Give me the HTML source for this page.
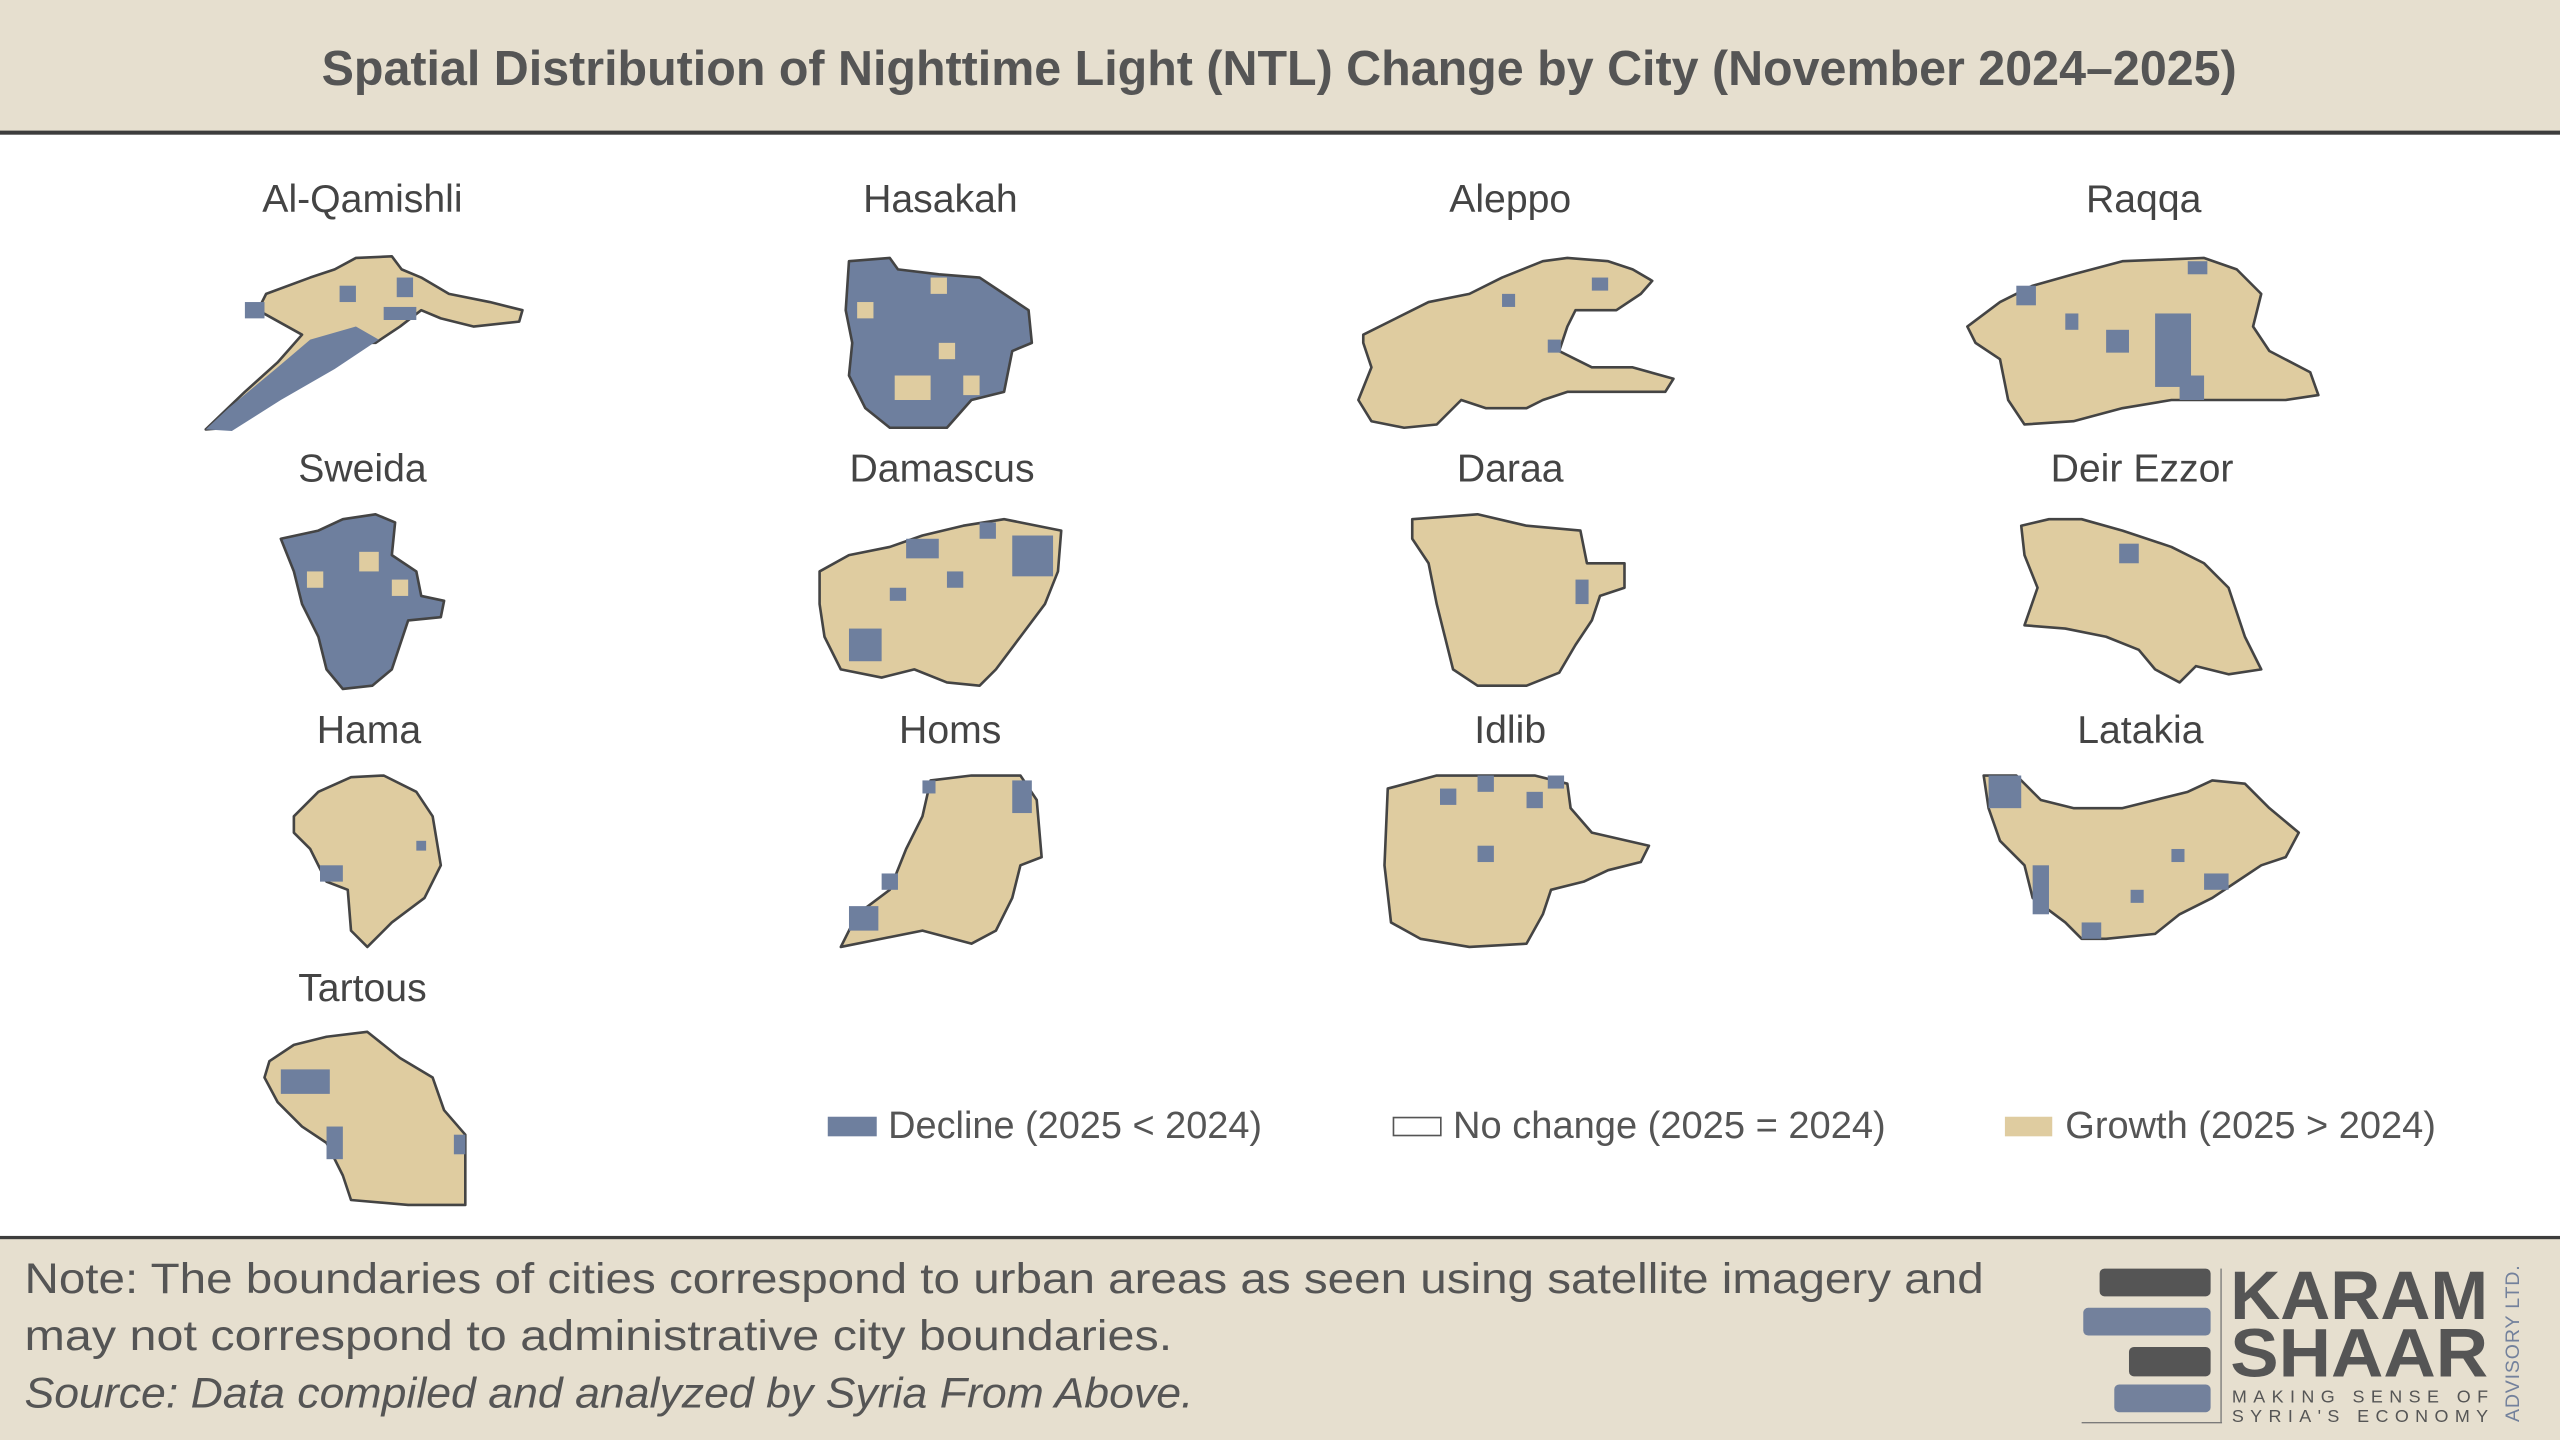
<!DOCTYPE html>
<html><head><meta charset="utf-8"><style>
html,body{margin:0;padding:0;background:#fff;}
svg{display:block;}
text{font-family:"Liberation Sans",sans-serif;}
</style></head><body>
<svg width="2560" height="1440" viewBox="0 0 1568 882" xmlns="http://www.w3.org/2000/svg">
<rect x="0" y="0" width="1568" height="882" fill="#ffffff"/>
<rect x="0" y="0" width="1568" height="81" fill="#e6dfcf"/>
<rect x="0" y="80" width="1568" height="2.5" fill="#3d3d3d"/>
<text x="197" y="52" font-size="30" font-weight="bold" fill="#555" textLength="1173" lengthAdjust="spacingAndGlyphs">Spatial Distribution of Nighttime Light (NTL) Change by City (November 2024–2025)</text>

<rect x="0" y="758" width="1568" height="124" fill="#e6dfcf"/>
<rect x="0" y="757" width="1568" height="2" fill="#3d3d3d"/>
<text x="15" y="792" font-size="26" fill="#555" textLength="1200" lengthAdjust="spacingAndGlyphs">Note: The boundaries of cities correspond to urban areas as seen using satellite imagery and</text>
<text x="15" y="827" font-size="26" fill="#555" textLength="703" lengthAdjust="spacingAndGlyphs">may not correspond to administrative city boundaries.</text>
<text x="15" y="862" font-size="26" font-style="italic" fill="#555" textLength="716" lengthAdjust="spacingAndGlyphs">Source: Data compiled and analyzed by Syria From Above.</text>

<!-- logo -->
<rect x="1286" y="777" width="68" height="17" rx="3" fill="#555"/>
<rect x="1276" y="801" width="78" height="17" rx="3" fill="#73819c"/>
<rect x="1304" y="825" width="50" height="18" rx="3" fill="#555"/>
<rect x="1295" y="848" width="59" height="17" rx="3" fill="#73819c"/>
<rect x="1360" y="777" width="0.8" height="94" fill="#777"/>
<rect x="1275" y="871" width="86" height="0.8" fill="#777"/>
<text x="1366" y="808" font-size="42" font-weight="bold" fill="#555" textLength="158" lengthAdjust="spacingAndGlyphs">KARAM</text>
<text x="1366" y="843" font-size="42" font-weight="bold" fill="#555" textLength="158" lengthAdjust="spacingAndGlyphs">SHAAR</text>
<text x="1367" y="859" font-size="11" fill="#555" textLength="157" lengthAdjust="spacing">MAKING SENSE OF</text>
<text x="1367" y="871" font-size="11" fill="#555" textLength="157" lengthAdjust="spacing">SYRIA'S ECONOMY</text>
<text transform="translate(1543,871) rotate(-90)" font-size="12" fill="#73819c" textLength="96" lengthAdjust="spacing">ADVISORY LTD.</text>

<!-- labels -->
<g font-size="24" fill="#444" text-anchor="middle">
<text x="222" y="130">Al-Qamishli</text>
<text x="576" y="130">Hasakah</text>
<text x="925" y="130">Aleppo</text>
<text x="1313" y="130">Raqqa</text>
<text x="222" y="295">Sweida</text>
<text x="577" y="295">Damascus</text>
<text x="925" y="295">Daraa</text>
<text x="1312" y="295">Deir Ezzor</text>
<text x="226" y="455">Hama</text>
<text x="582" y="455">Homs</text>
<text x="925" y="455">Idlib</text>
<text x="1311" y="455">Latakia</text>
<text x="222" y="613">Tartous</text>
</g>

<g stroke="#444" stroke-width="1.6" stroke-linejoin="round">
<!-- Al-Qamishli -->
<polygon fill="#dfcca0" points="126,263 150,240 170,222 185,205 158,190 163,180 190,170 205,165 218,158 240,157 246,165 258,170 275,180 300,185 320,190 318,197 290,200 270,195 258,190 245,200 230,210 220,210 200,225 175,240 140,262"/>
<polygon fill="#6e7f9e" stroke="none" points="126,263 140,250 170,225 190,208 218,200 232,208 205,226 172,245 142,264"/>
<!-- Hasakah -->
<polygon fill="#6e7f9e" points="520,160 545,158 550,165 575,168 600,170 615,180 630,190 632,210 620,215 615,240 595,245 580,262 545,262 530,250 520,230 522,210 518,190"/>
<!-- Aleppo -->
<polygon fill="#dfcca0" points="835,205 855,195 875,185 900,180 920,170 945,160 960,158 985,160 1000,165 1012,172 1005,180 990,190 965,190 960,200 955,215 975,225 1000,225 1025,232 1020,240 990,240 960,240 945,245 935,250 910,250 895,245 880,260 860,262 840,258 832,245 840,225 835,210"/>
<!-- Raqqa -->
<polygon fill="#dfcca0" points="1205,200 1225,185 1245,175 1270,168 1300,160 1350,158 1370,165 1385,180 1380,200 1390,215 1415,228 1420,242 1400,245 1360,245 1330,245 1300,250 1270,258 1240,260 1230,245 1225,220 1210,210"/>
<!-- Sweida -->
<polygon fill="#6e7f9e" points="172,330 195,325 210,318 230,315 242,320 240,340 255,350 258,365 272,368 270,378 250,380 245,395 240,410 228,420 210,422 200,410 195,390 185,370 180,350"/>
<!-- Damascus -->
<polygon fill="#dfcca0" points="502,350 520,340 545,335 565,328 590,322 615,318 650,325 648,350 640,370 625,390 610,410 600,420 580,418 560,410 540,415 515,410 505,390 502,370"/>
<!-- Daraa -->
<polygon fill="#dfcca0" points="865,318 905,315 935,322 968,325 972,345 995,345 995,360 980,365 975,380 965,395 955,412 935,420 905,420 890,410 885,390 880,370 875,345 865,330"/>
<!-- Deir Ezzor -->
<polygon fill="#dfcca0" points="1238,322 1255,318 1275,318 1300,325 1330,335 1350,345 1365,360 1375,390 1385,410 1365,413 1345,408 1335,418 1320,410 1310,398 1290,390 1265,385 1240,383 1248,360 1240,340"/>
<!-- Hama -->
<polygon fill="#dfcca0" points="180,500 195,485 215,476 235,475 255,485 265,500 270,530 260,550 240,565 225,580 215,570 213,545 200,540 190,520 180,510"/>
<!-- Homs -->
<polygon fill="#dfcca0" points="515,580 525,560 545,545 555,520 565,500 570,478 595,475 625,475 635,490 638,525 625,530 620,550 610,570 595,578 565,570 540,575"/>
<!-- Idlib -->
<polygon fill="#dfcca0" points="850,483 880,475 940,475 960,480 962,495 975,510 1010,518 1005,528 985,533 970,540 950,545 945,560 935,578 900,580 870,575 852,565 848,530"/>
<!-- Latakia -->
<polygon fill="#dfcca0" points="1215,475 1235,475 1250,490 1270,495 1300,495 1320,490 1340,485 1355,478 1375,480 1390,495 1408,510 1400,525 1385,530 1370,540 1355,550 1335,560 1320,572 1290,575 1275,575 1265,565 1245,550 1240,530 1225,515 1218,495"/>
<!-- Tartous -->
<polygon fill="#dfcca0" points="165,650 180,640 200,635 225,632 245,648 265,660 272,680 285,695 285,738 250,738 215,735 210,720 200,700 185,690 170,675 162,660"/>
</g>

<!-- pixel patches -->
<g fill="#6e7f9e">
<rect x="150" y="185" width="12" height="10"/><rect x="243" y="170" width="10" height="12"/><rect x="208" y="175" width="10" height="10"/><rect x="235" y="188" width="20" height="8"/>
<rect x="920" y="180" width="8" height="8"/><rect x="975" y="170" width="10" height="8"/><rect x="948" y="208" width="8" height="8"/>
<rect x="1320" y="192" width="22" height="45"/><rect x="1290" y="202" width="14" height="14"/><rect x="1235" y="175" width="12" height="12"/><rect x="1265" y="192" width="8" height="10"/><rect x="1340" y="160" width="12" height="8"/><rect x="1335" y="230" width="15" height="15"/>
<rect x="555" y="330" width="20" height="12"/><rect x="620" y="328" width="25" height="25"/><rect x="520" y="385" width="20" height="20"/><rect x="580" y="350" width="10" height="10"/><rect x="600" y="320" width="10" height="10"/><rect x="545" y="360" width="10" height="8"/>
<rect x="965" y="355" width="8" height="15"/>
<rect x="1298" y="333" width="12" height="12"/>
<rect x="196" y="530" width="14" height="10"/><rect x="255" y="515" width="6" height="6"/>
<rect x="520" y="555" width="18" height="15"/><rect x="540" y="535" width="10" height="10"/><rect x="620" y="478" width="12" height="20"/><rect x="565" y="478" width="8" height="8"/>
<rect x="882" y="483" width="10" height="10"/><rect x="905" y="475" width="10" height="10"/><rect x="935" y="485" width="10" height="10"/><rect x="905" y="518" width="10" height="10"/><rect x="948" y="475" width="10" height="8"/>
<rect x="1218" y="475" width="20" height="20"/><rect x="1245" y="530" width="10" height="30"/><rect x="1350" y="535" width="15" height="10"/><rect x="1330" y="520" width="8" height="8"/><rect x="1275" y="565" width="12" height="10"/><rect x="1305" y="545" width="8" height="8"/>
<rect x="172" y="655" width="30" height="15"/><rect x="200" y="690" width="10" height="20"/><rect x="278" y="695" width="7" height="12"/>
</g>
<g fill="#dfcca0">
<rect x="570" y="170" width="10" height="10"/><rect x="575" y="210" width="10" height="10"/><rect x="548" y="230" width="22" height="15"/><rect x="590" y="230" width="10" height="12"/><rect x="525" y="185" width="10" height="10"/>
<rect x="220" y="338" width="12" height="12"/><rect x="240" y="355" width="10" height="10"/><rect x="188" y="350" width="10" height="10"/>
</g>

<!-- legend -->
<rect x="507" y="684" width="30" height="12" fill="#6e7f9e"/>
<text x="544" y="697" font-size="23" fill="#555" textLength="229" lengthAdjust="spacingAndGlyphs">Decline (2025 &lt; 2024)</text>
<rect x="853.5" y="684.5" width="29" height="11" fill="#fff" stroke="#555" stroke-width="1"/>
<text x="890" y="697" font-size="23" fill="#555" textLength="265" lengthAdjust="spacingAndGlyphs">No change (2025 = 2024)</text>
<rect x="1228" y="684" width="29" height="12" fill="#dfcca0"/>
<text x="1265" y="697" font-size="23" fill="#555" textLength="227" lengthAdjust="spacingAndGlyphs">Growth (2025 &gt; 2024)</text>
</svg>
</body></html>
